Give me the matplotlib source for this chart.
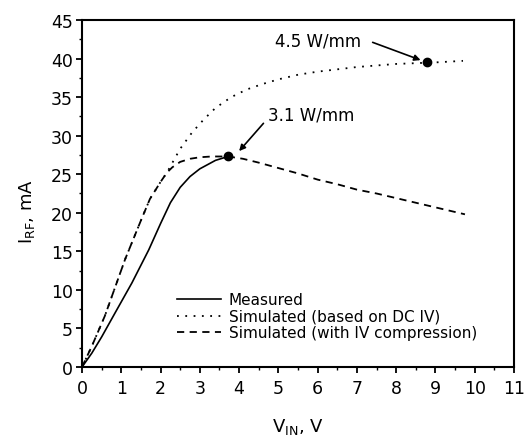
import matplotlib
matplotlib.use("Agg")
import matplotlib.pyplot as plt
from matplotlib.ticker import MultipleLocator

plt.rcParams['font.family'] = ['DejaVu Sans']
plt.rcParams['mathtext.default'] = 'regular'

# measured RF current vs input voltage
v_meas = [0, 0.25, 0.5, 0.84, 1.27, 1.7, 2.0, 2.25, 2.5, 2.75, 3.0, 3.4, 3.72]
i_meas = [0, 1.8, 3.9, 7.0, 10.9, 15.2, 18.6, 21.3, 23.3, 24.7, 25.7, 26.8, 27.3]

# simulated, based on DC IV
v_dc = [0, 0.25, 0.58, 1.1, 1.5, 1.73, 2.0, 2.16, 2.5, 2.8, 3.1, 3.4, 3.8, 4.2, 4.6,
        5.0, 5.5, 6.0, 6.5, 7.0, 7.5, 8.0, 8.5, 9.0, 9.7]
i_dc = [0, 2.7, 6.6, 14.0, 19.0, 21.8, 24.0, 25.2, 28.3, 30.4, 32.1, 33.6, 35.0, 36.0, 36.7,
        37.3, 37.9, 38.3, 38.6, 38.9, 39.1, 39.3, 39.4, 39.5, 39.7]

# simulated, with IV compression
v_cmp = [0, 0.25, 0.58, 1.1, 1.5, 1.73, 2.0, 2.16, 2.3, 2.5, 2.75, 3.0, 3.3, 3.72, 4.1,
         4.5, 5.0, 5.5, 6.0, 6.5, 7.0, 7.5, 8.0, 8.5, 9.0, 9.75]
i_cmp = [0, 2.7, 6.6, 14.0, 19.0, 21.8, 24.0, 25.2, 25.9, 26.6, 27.0, 27.2, 27.3, 27.3, 27.0,
         26.5, 25.8, 25.1, 24.3, 23.7, 23.0, 22.5, 21.9, 21.3, 20.7, 19.8]

# power points marked on the curves
pts_v = [3.72, 8.78]
pts_i = [27.3, 39.5]

fig = plt.figure(figsize=(5.24, 4.39), dpi=100)
ax = fig.add_axes([0.1565, 0.1617, 0.8245, 0.7905])

ax.plot(v_meas, i_meas, color='black', lw=1.2, ls='-', label='Measured')
ax.plot(v_dc, i_dc, color='black', lw=1.3, ls=(0, (1, 3.6)), label='Simulated (based on DC IV)')
ax.plot(v_cmp, i_cmp, color='black', lw=1.3, ls=(0, (4, 3)), label='Simulated (with IV compression)')
ax.plot(pts_v, pts_i, 'o', color='black', ms=6, zorder=5)

ax.text(4.92, 42.4, '4.5 W/mm', fontsize=12, ha='left', va='center')
ax.annotate('', xy=(8.62, 39.8), xytext=(7.4, 42.1),
            arrowprops=dict(arrowstyle='-|>', color='black', lw=1.2, mutation_scale=9,
                            shrinkA=0, shrinkB=0))
ax.text(4.73, 32.8, '3.1 W/mm', fontsize=12, ha='left', va='center')
ax.annotate('', xy=(4.0, 28.0), xytext=(4.62, 31.6),
            arrowprops=dict(arrowstyle='-|>', color='black', lw=1.2, mutation_scale=9,
                            shrinkA=0, shrinkB=0))

ax.set_xlim(0, 11)
ax.set_ylim(0, 45)
ax.xaxis.set_major_locator(MultipleLocator(1))
ax.xaxis.set_minor_locator(MultipleLocator(0.5))
ax.yaxis.set_major_locator(MultipleLocator(5))
ax.yaxis.set_minor_locator(MultipleLocator(2.5))
ax.tick_params(which='major', direction='out', length=4.5, width=1.3, labelsize=12.5)
ax.tick_params(axis='x', which='major', pad=4)
ax.tick_params(axis='y', which='major', pad=2)
ax.tick_params(which='minor', direction='out', length=2.5, width=1.0)
for s in ax.spines.values():
    s.set_linewidth(1.5)

ax.set_xlabel('V$_{IN}$, V', fontsize=13)
ax.set_ylabel('I$_{RF}$, mA', fontsize=13)
ax.xaxis.set_label_coords(0.5, -0.14)
ax.yaxis.set_label_coords(-0.105, 0.45)

ax.legend(loc='upper left', bbox_to_anchor=(0.22, 0.215), frameon=False, fontsize=11,
          handlelength=2.9, handletextpad=0.5, labelspacing=0.1, borderpad=0, borderaxespad=0)

fig.savefig('out.png', dpi=100)
